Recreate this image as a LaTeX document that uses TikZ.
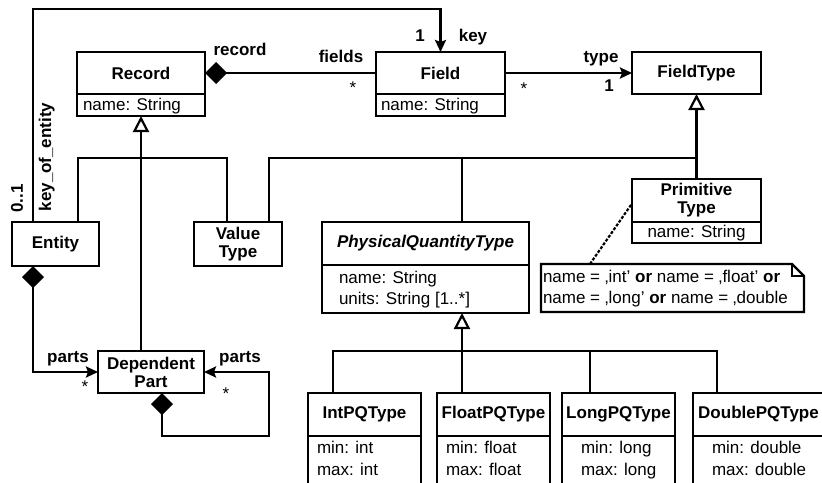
\documentclass[tikz,border=0pt]{standalone}
\usepackage{fontspec}
\setmainfont{Liberation Sans}
\usetikzlibrary{arrows.meta}

\tikzset{
  cls/.style={draw, line width=2.6pt, inner sep=0pt, outer sep=0pt, font=\bfseries},
  cls2/.style={cls, align=center, font=\bfseries\fontsize{17pt}{18pt}\selectfont},
  comp/.style={draw, line width=2.6pt, inner sep=0pt, outer sep=0pt},
  txt/.style={inner sep=0pt, outer sep=0pt, anchor=base west},
  ctxt/.style={inner sep=0pt, outer sep=0pt, anchor=base},
  lbl/.style={inner sep=0pt, outer sep=0pt, anchor=base, font=\bfseries},
  mult/.style={inner sep=0pt, outer sep=0pt, anchor=base},
  conn/.style={line width=2.6pt},
  thinconn/.style={line width=2pt},
  genarrow/.style={-{Triangle[length=16pt,width=16pt,fill=white,line width=2.2pt]}},
  navarrow/.style={-{Stealth[length=12pt,width=11pt,inset=2pt]}},
  composite/.style={{Diamond[length=22pt,width=22pt]}-},
  compnav/.style={{Diamond[length=22pt,width=22pt]}-{Stealth[length=12pt,width=11pt,inset=2pt]}},
}

\begin{document}
\fontsize{17pt}{20pt}\selectfont
\begin{tikzpicture}[x=1pt, y=-1pt]
\useasboundingbox (0,0) rectangle (822,482);
\clip (0,0) rectangle (822,482);

% ---------- classes ----------
\node[cls, minimum width=128pt, minimum height=42pt] (recordH) at (141,73) {Record};
\node[comp, minimum width=128pt, minimum height=22pt, anchor=north] (recordA) at (recordH.south) {};
\node[txt] (recordT) at (83,110) {name: String};

\node[cls, minimum width=129pt, minimum height=42pt] (fieldH) at (440.5,73) {Field};
\node[comp, minimum width=129pt, minimum height=22pt, anchor=north] (fieldA) at (fieldH.south) {};
\node[txt] (fieldT) at (381,110) {name: String};

\node[cls, minimum width=129pt, minimum height=42pt] (ftype) at (696.5,73) {FieldType};

\node[cls, minimum width=87pt, minimum height=44pt] (entity) at (55.5,244) {Entity};

\node[cls2, minimum width=88pt, minimum height=44pt] (vtype) at (238,244) {Value\\Type};

\node[cls, font=\bfseries\itshape, minimum width=207pt, minimum height=43pt] (pqtH) at (425.5,243.5) {PhysicalQuantityType};
\node[comp, minimum width=207pt, minimum height=48pt, anchor=north] (pqtA) at (pqtH.south) {};
\node[txt] (pqtT1) at (339,283) {name: String};
\node[txt] (pqtT2) at (339,304) {units: String [1..*]};

\node[cls2, minimum width=129pt, minimum height=43pt] (ptypeH) at (696.5,200.5) {Primitive\\Type};
\node[comp, minimum width=129pt, minimum height=21pt, anchor=north] (ptypeA) at (ptypeH.south) {};
\node[ctxt] (ptypeT) at (696.5,237) {name: String};

\node[cls2, minimum width=106pt, minimum height=42pt] (dpart) at (151,372) {Dependent\\Part};

% PQ subtypes (their lower parts run past the picture edge)
\node[cls, minimum width=113pt, minimum height=43pt] (intH) at (364.5,414.5) {IntPQType};
\node[comp, minimum width=113pt, minimum height=60pt, anchor=north] (intA) at (intH.south) {};
\node[txt] (intT1) at (317,453) {min: int};
\node[txt] (intT2) at (317,475) {max: int};

\node[cls, minimum width=113pt, minimum height=43pt] (floatH) at (493.5,414.5) {FloatPQType};
\node[comp, minimum width=113pt, minimum height=60pt, anchor=north] (floatA) at (floatH.south) {};
\node[txt] (floatT1) at (446,453) {min: float};
\node[txt] (floatT2) at (446,475) {max: float};

\node[cls, minimum width=113pt, minimum height=43pt] (longH) at (618.5,414.5) {LongPQType};
\node[comp, minimum width=113pt, minimum height=60pt, anchor=north] (longA) at (longH.south) {};
\node[txt] (longT1) at (581,453) {min: long};
\node[txt] (longT2) at (581,475) {max: long};

\node[cls, minimum width=131pt, minimum height=43pt] (dblH) at (758.5,414.5) {DoublePQType};
\node[comp, minimum width=131pt, minimum height=60pt, anchor=north] (dblA) at (dblH.south) {};
\node[txt] (dblT1) at (712,453) {min: double};
\node[txt] (dblT2) at (712,475) {max: double};

% ---------- note ----------
\node[inner sep=0pt, outer sep=0pt, minimum width=263pt, minimum height=48pt] (note) at (672.5,288) {};
\draw[line width=2.4pt] (note.north west) -- ([xshift=-12pt]note.north east)
  -- ([yshift=-12pt]note.north east) -- (note.south east) -- (note.south west) -- cycle;
\draw[line width=2pt] ([xshift=-12pt]note.north east) |- ([yshift=-12pt]note.north east);
\node[txt] (noteT1) at (543,282) {name = ‚int’ \textbf{or} name = ‚float’ \textbf{or}};
\node[txt] (noteT2) at (543,303) {name = ‚long’ \textbf{or} name = ‚double};
\draw[line width=2.2pt, dash pattern=on 3pt off 1.6pt] ([xshift=49pt]note.north west) -- ([yshift=-3pt]ptypeH.west);

% ---------- associations ----------
\coordinate (keyFoot) at ([xshift=21pt]entity.north west);
\draw[conn, navarrow] (keyFoot) |- ([yshift=43pt]fieldH.north) -- (fieldH.north);
\node[lbl] (mKey) at (420,41) {1};
\node[lbl] (lKey) at (473,41) {key};
\node[lbl, rotate=90] (mKeyEnt) at (23,198.5) {0..1};
\node[lbl, rotate=90] (lKeyEnt) at (51,157) {key\_of\_entity};

\draw[conn, composite] (recordH.east) -- (fieldH.west);
\node[lbl] (lRecord) at (240,55) {record};
\node[lbl] (lFields) at (341,62) {fields};
\node[mult] (mFields) at (353,93) {*};

\draw[conn, navarrow] (fieldH.east) -- (ftype.west);
\node[lbl] (lType) at (601,62) {type};
\node[lbl] (mType) at (609,91) {1};
\node[mult] (mField) at (524,94) {*};

\coordinate (entDown) at ([xshift=21pt]entity.south west);
\draw[conn, compnav] (entDown) |- (dpart.west);
\node[lbl] (lParts1) at (68,362) {parts};
\node[mult] (mParts1) at (85,392) {*};

\coordinate (dpDown) at ([xshift=64pt]dpart.south west);
\coordinate (selfLoop) at (269,436);
\draw[conn, compnav] (dpDown) |- (selfLoop) |- (dpart.east);
\node[lbl] (lParts2) at (240,362) {parts};
\node[mult] (mParts2) at (226,399) {*};

% ---------- generalizations ----------
\coordinate (bus) at (0,158);
\draw[conn, genarrow] (dpart.north -| recordA.south) -- (recordA.south);
\coordinate (entUp) at ([xshift=66pt]entity.north west);
\coordinate (vtUp1) at ([xshift=33pt]vtype.north west);
\coordinate (vtUp2) at ([xshift=75pt]vtype.north west);
\coordinate (pqtUp) at ([xshift=140pt]pqtH.north west);
\draw[thinconn] (entUp) |- (vtUp1 |- bus) -- (vtUp1);
\draw[thinconn] (vtUp2) |- (ptypeH.north |- bus);
\draw[thinconn] (pqtUp) -- (pqtUp |- bus);
\draw[conn, genarrow] (ptypeH.north) -- (ftype.south);

\coordinate (subBus) at (0,351);
\coordinate (pqtArrow) at ([xshift=140pt]pqtA.south west);
\coordinate (intUp) at ([xshift=25pt]intH.north west);
\coordinate (floatUp) at ([xshift=25pt]floatH.north west);
\coordinate (longUp) at ([xshift=28pt]longH.north west);
\coordinate (dblUp) at ([xshift=24pt]dblH.north west);
\draw[conn] (intUp) |- (dblUp |- subBus) -- (dblUp);
\draw[conn] (longUp) -- (longUp |- subBus);
\draw[conn, genarrow] (floatUp) -- (pqtArrow);
\end{tikzpicture}
\end{document}
